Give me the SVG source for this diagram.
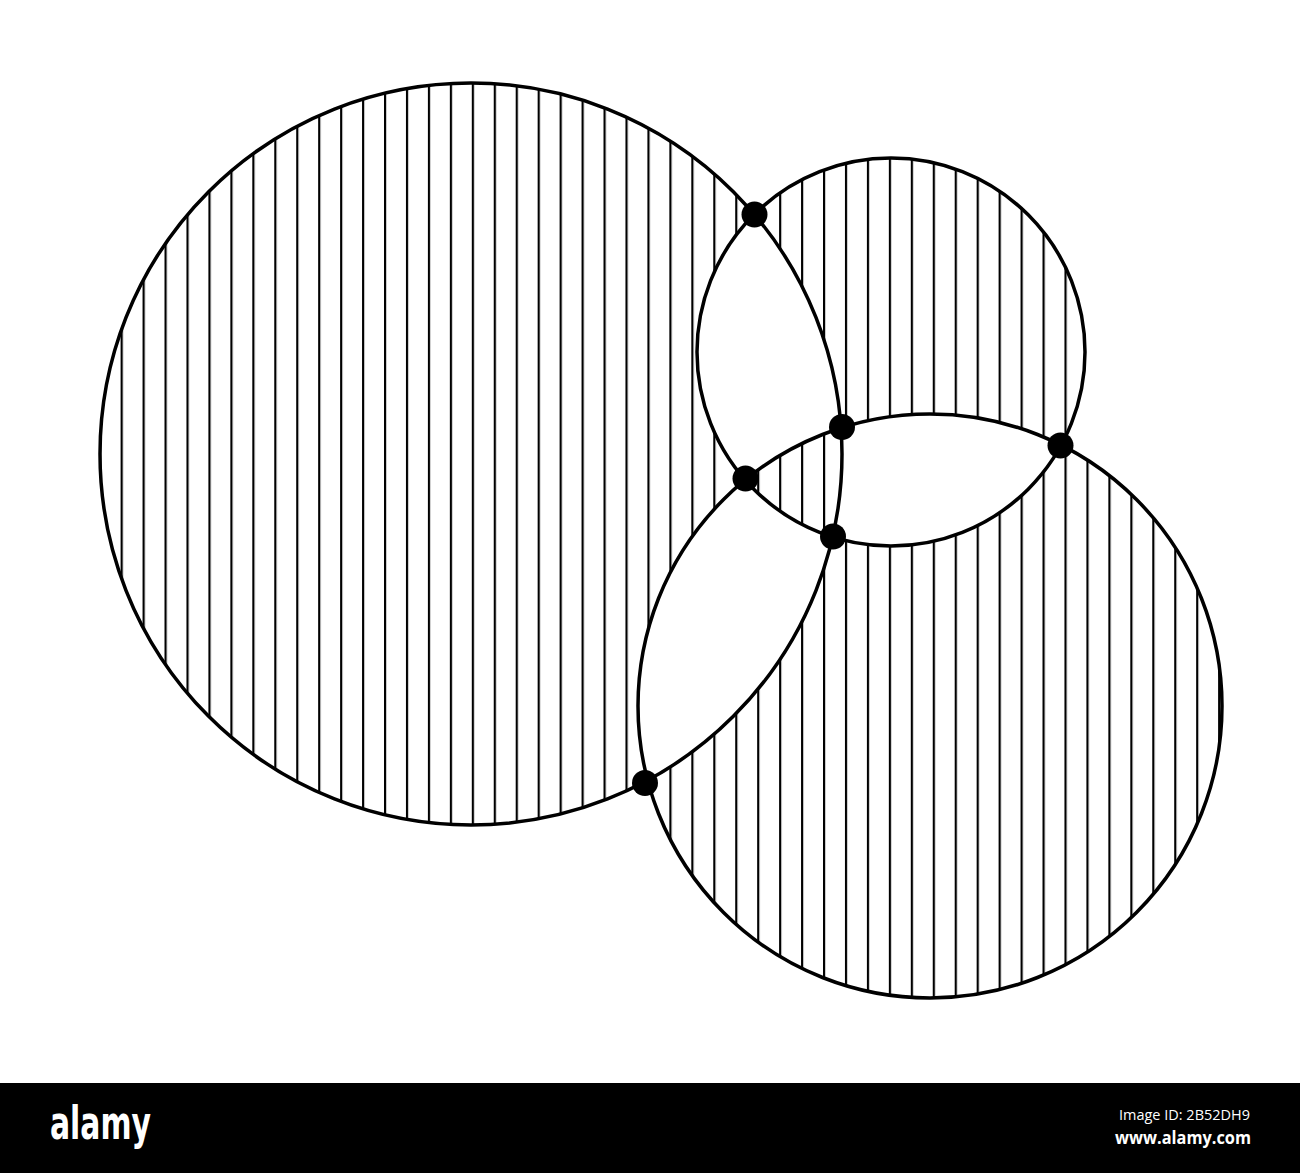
<svg xmlns="http://www.w3.org/2000/svg" width="1300" height="1173" viewBox="0 0 1300 1173">
  <style>
    .outline { fill: none; stroke: #000; stroke-width: 3.5; }
    .dot { fill: #000; }
    .bar { fill: #000; }
    .logo { font-family: "DejaVu Sans Condensed", "DejaVu Sans", sans-serif; font-weight: bold; font-size: 46px; fill: #fff; }
    .id { font-family: "Open Sans", "DejaVu Sans", sans-serif; font-size: 15px; fill: #fff; }
    .url { font-family: "Open Sans", "DejaVu Sans", sans-serif; font-weight: bold; font-size: 17px; fill: #fff; }
  </style>
  <defs>
    <pattern id="hatch" patternUnits="userSpaceOnUse" x="10.85" y="0" width="21.95" height="100">
      <rect x="0" y="0" width="2.2" height="100" fill="#000"/>
    </pattern>
  </defs>
  <rect width="1300" height="1173" fill="#fff"/>

  <g id="hatching">
    <path fill="url(#hatch)" fill-rule="evenodd" d="
      M 100 454 a 371 371 0 1 0 742 0 a 371 371 0 1 0 -742 0 Z
      M 697 352 a 194 194 0 1 0 388 0 a 194 194 0 1 0 -388 0 Z
      M 638 706 a 292 292 0 1 0 584 0 a 292 292 0 1 0 -584 0 Z"/>
  </g>

  <g id="circles">
    <circle id="circle-a" class="outline" cx="471" cy="454" r="371"/>
    <circle id="circle-b" class="outline" cx="891" cy="352" r="194"/>
    <circle id="circle-c" class="outline" cx="930" cy="706" r="292"/>
  </g>

  <g id="points">
    <circle class="dot" cx="754.5" cy="214.5" r="13"/>
    <circle class="dot" cx="833" cy="536.5" r="13"/>
    <circle class="dot" cx="645" cy="783" r="13"/>
    <circle class="dot" cx="842" cy="427" r="13"/>
    <circle class="dot" cx="745.5" cy="478.5" r="13"/>
    <circle class="dot" cx="1060.5" cy="445.5" r="13"/>
  </g>

  <g id="footer">
    <rect class="bar" x="0" y="1083" width="1300" height="90"/>
    <text class="logo" x="50" y="1139" textLength="101" lengthAdjust="spacingAndGlyphs">alamy</text>
    <text class="id" x="1119" y="1120" textLength="131" lengthAdjust="spacingAndGlyphs">Image ID: 2B52DH9</text>
    <text class="url" x="1115" y="1144" textLength="136" lengthAdjust="spacingAndGlyphs">www.alamy.com</text>
  </g>
</svg>
